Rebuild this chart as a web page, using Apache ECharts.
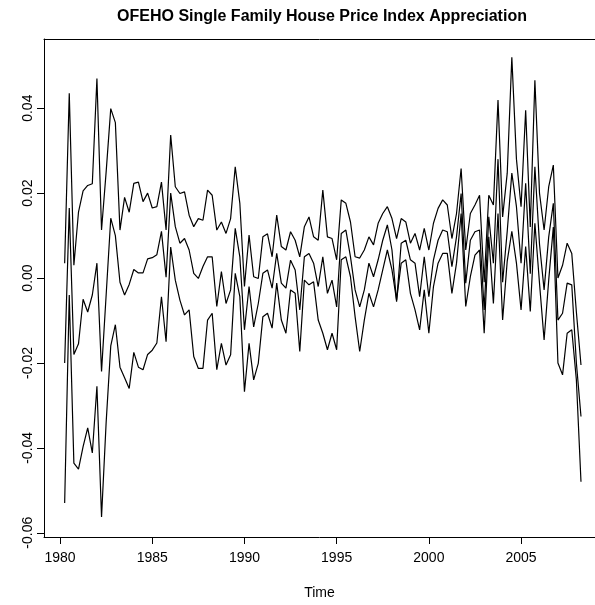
<!DOCTYPE html>
<html>
	<head>
		<meta charset="utf-8">
		<title>OFEHO Single Family House Price Index Appreciation</title>
		<script src="https://cdn.jsdelivr.net/npm/echarts@6/dist/echarts.min.js"></script>
	</head>
	<body style="margin:0;background:#fff">
		<div id="main" style="width:595px;height:605px;"></div>
		<script>
		// quarterly series, first point 1980 Q2
		var startYear = 1980.25;
		var xTicks = [1980, 1985, 1990, 1995, 2000, 2005];
		var yTicks = [-0.06, -0.04, -0.02, 0.00, 0.02, 0.04];

		var upper = [
			0.0035, 0.0435, 0.003, 0.0155, 0.0205, 0.0218, 0.0222, 0.047, 0.0113, 0.025, 0.0399, 0.0366,
			0.0113, 0.019, 0.0155, 0.0223, 0.0226, 0.018, 0.020, 0.0165, 0.0168, 0.0226, 0.0113, 0.0337,
			0.0215, 0.0199, 0.0203, 0.0148, 0.0121, 0.014, 0.0136, 0.0207, 0.0195, 0.0113, 0.0132, 0.0105,
			0.014, 0.0262, 0.0176, -0.002, 0.0101, 0.0003, -0.0001, 0.0097, 0.0104, 0.005, 0.0148, 0.0074,
			0.0066, 0.0109, 0.0089, 0.005, 0.0121, 0.0144, 0.0097, 0.0089, 0.0207, 0.0097, 0.0093, 0.0043,
			0.0184, 0.0176, 0.0132, 0.005, 0.0047, 0.0066, 0.0097, 0.0078, 0.0129, 0.0152, 0.0168, 0.014,
			0.0093, 0.014, 0.0132, 0.0082, 0.0105, 0.0066, 0.0117, 0.0066, 0.0129, 0.0164, 0.0184, 0.0172,
			0.0093, 0.0152, 0.0258, 0.0066, 0.0152, 0.0172, 0.0195, -0.001, 0.0195, 0.0172, 0.0419, 0.0144,
			0.0247, 0.052, 0.028, 0.0168, 0.0395, 0.012, 0.0466, 0.020, 0.0113, 0.0215, 0.0266, 0.000,
			0.003, 0.0082, 0.0058, -0.008, -0.0205
		];
		var middle = [
			-0.02, 0.0165, -0.018, -0.0155, -0.005, -0.008, -0.004, 0.0035, -0.022, -0.004, 0.0141, 0.010,
			-0.001, -0.004, -0.0015, 0.002, 0.0012, 0.0012, 0.0045, 0.0048, 0.0055, 0.011, 0.0002, 0.020,
			0.0121, 0.0082, 0.0093, 0.0066, 0.0011, -0.0001, 0.0027, 0.005, 0.005, -0.0067, 0.0015, -0.006,
			-0.0028, 0.0117, 0.005, -0.0122, -0.002, -0.0115, -0.006, 0.0011, 0.0019, -0.0024, 0.0058, -0.0012,
			-0.0024, 0.0042, 0.0019, -0.0075, 0.005, 0.0058, 0.0035, -0.002, 0.005, -0.0036, -0.0005, -0.0068,
			0.0105, 0.0113, 0.005, -0.0028, -0.0068, -0.0028, 0.0035, 0.0003, 0.0043, 0.0089, 0.0125, 0.0066,
			-0.0056, 0.0082, 0.0089, 0.0043, 0.0035, -0.0044, 0.005, -0.0044, 0.0043, 0.0089, 0.0113, 0.0109,
			0.0027, 0.0097, 0.0199, -0.0012, 0.0089, 0.0109, 0.0113, -0.0075, 0.0144, 0.0035, 0.028, -0.001,
			0.011, 0.0247, 0.0168, 0.0035, 0.0223, 0.001, 0.0262, 0.008, -0.0028, 0.0097, 0.0176, -0.0099,
			-0.0083, -0.0012, -0.0016, -0.020, -0.0326
		];
		var lower = [
			-0.053, -0.004, -0.0436, -0.045, -0.0397, -0.0353, -0.0412, -0.0255, -0.0563, -0.034, -0.016, -0.011,
			-0.021, -0.0235, -0.026, -0.0175, -0.021, -0.0216, -0.018, -0.017, -0.0153, -0.0044, -0.015, 0.0073,
			-0.0005, -0.0052, -0.0087, -0.0075, -0.0185, -0.0213, -0.0213, -0.0099, -0.0083, -0.0216, -0.0154, -0.0205,
			-0.0181, 0.0011, -0.0044, -0.0268, -0.0154, -0.024, -0.0201, -0.0091, -0.0083, -0.0118, -0.0012, -0.0099,
			-0.013, -0.0028, -0.0036, -0.0173, -0.0005, -0.0016, -0.0009, -0.0099, -0.013, -0.0169, -0.013, -0.0169,
			0.0043, 0.005, 0.0003, -0.0091, -0.0173, -0.0099, -0.0036, -0.0068, -0.0028, 0.0019, 0.0066, 0.0019,
			-0.0052, 0.0035, 0.0043, -0.0036, -0.0075, -0.0122, -0.0028, -0.013, -0.002, 0.0035, 0.0058, 0.0058,
			-0.0036, 0.0035, 0.0152, -0.0067, 0.0003, 0.0054, 0.0066, -0.013, 0.0097, -0.006, 0.0152, -0.0099,
			0.004, 0.011, 0.0035, -0.0075, 0.0074, -0.0079, 0.0129, -0.0012, -0.0146, -0.0005, 0.012, -0.020,
			-0.0228, -0.013, -0.0122, -0.024, -0.048
		];

		function pairs(vals) {
			var out = [];
			for (var i = 0; i < vals.length; i++) {
				out.push([startYear + i * 0.25, vals[i]]);
			}
			return out;
		}

		var font = 'Liberation Sans, Arial, sans-serif';
		var lineStyle = { color: '#000', width: 1.2 };
		var edge = { show: true, onZero: false, lineStyle: { color: '#000', width: 1 } };

		var myChart = echarts.init(document.getElementById('main'));
		myChart.setOption({
			animation: false,
			backgroundColor: '#fff',
			graphic: [{
				type: 'text',
				x: 322,
				y: 17,
				style: {
					text: 'OFEHO Single Family House Price Index Appreciation',
					font: 'bold 16px ' + font,
					fill: '#000',
					textAlign: 'center',
					textVerticalAlign: 'middle'
				}
			}],
			// plot box runs past the right edge of the picture, so no right border
			grid: { left: 44, top: 39, right: 0, bottom: 68 },
			xAxis: [{
				type: 'value',
				min: 1979.13,
				max: 2009.01,
				name: 'Time',
				nameLocation: 'middle',
				nameGap: 49,
				nameTextStyle: { fontFamily: font, fontSize: 14, color: '#000' },
				axisLine: edge,
				splitLine: { show: false },
				axisTick: { show: true, length: 7, lineStyle: { color: '#000' }, customValues: xTicks },
				axisLabel: {
					customValues: xTicks,
					margin: 14,
					fontFamily: font,
					fontSize: 14,
					color: '#000',
					formatter: function (v) { return String(v); }
				}
			}, {
				type: 'value',
				position: 'top',
				min: 1979.13,
				max: 2009.01,
				axisLine: edge,
				axisTick: { show: false },
				axisLabel: { show: false },
				splitLine: { show: false }
			}],
			yAxis: {
				type: 'value',
				min: -0.061,
				max: 0.0563,
				axisLine: edge,
				splitLine: { show: false },
				axisTick: { show: true, length: 7, lineStyle: { color: '#000' }, customValues: yTicks },
				axisLabel: {
					customValues: yTicks,
					rotate: 90,
					margin: 9,
					fontFamily: font,
					fontSize: 14,
					color: '#000',
					formatter: function (v) { return v.toFixed(2); }
				}
			},
			series: [
				{ type: 'line', data: pairs(upper), showSymbol: false, lineStyle: lineStyle },
				{ type: 'line', data: pairs(middle), showSymbol: false, lineStyle: lineStyle },
				{ type: 'line', data: pairs(lower), showSymbol: false, lineStyle: lineStyle }
			]
		});
		</script>
	</body>
</html>
